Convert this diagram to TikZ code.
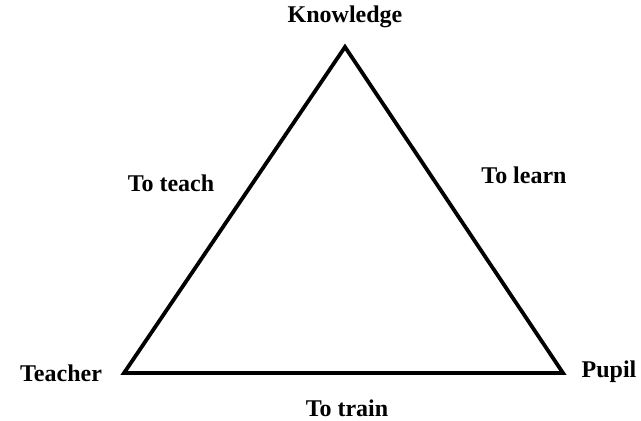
\documentclass[tikz,border=0pt]{standalone}
\usepackage{fontspec}
\setmainfont{Liberation Serif}
\usepackage{tikz}

\begin{document}
\begin{tikzpicture}[x=0.5pt,y=-0.5pt]

\tikzset{lbl/.style = {font=\bfseries\fontsize{12}{14}\selectfont, inner sep=0pt}}
\tikzset{side/.style = {line width=1.9pt, line join=miter}}

\useasboundingbox (0,0) rectangle (641,421);

% corners
\coordinate (knowledge) at (345,47);
\coordinate (teacher) at (124,373);
\coordinate (pupil) at (563,373);

% labels
\node[lbl] (kn) at (345,17) {Knowledge};
\node[lbl] (te) at (61,373) {Teacher};
\node[lbl] (pu) at (609,372) {Pupil};
\node[lbl] (teach) at (171,183) {To teach};
\node[lbl] (learn) at (524,175) {To learn};
\node[lbl] (train) at (347,408) {To train};

% sides
\draw[side] (knowledge) -- (pupil) -- (teacher) -- cycle;

\end{tikzpicture}
\end{document}
